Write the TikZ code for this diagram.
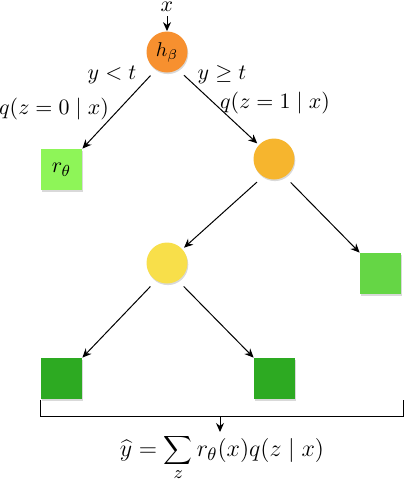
\documentclass[tikz,border=0pt]{standalone}
\usetikzlibrary{arrows.meta,shadows}
\definecolor{cRoot}{HTML}{F7902F}
\definecolor{cMid}{HTML}{F6B52E}
\definecolor{cYel}{HTML}{F8DF4A}
\definecolor{cLeafA}{HTML}{8EF558}
\definecolor{cLeafB}{HTML}{65D645}
\definecolor{cLeafC}{HTML}{2DAA22}
\tikzset{
  inner/.style={circle,minimum size=20.5pt,inner sep=0pt,drop shadow={shadow xshift=0.4pt,shadow yshift=-0.8pt,opacity=0.3}},
  leaf/.style={rectangle,minimum size=20.5pt,inner sep=0pt,drop shadow={shadow xshift=0.4pt,shadow yshift=-0.8pt,opacity=0.3}},
  conn/.style={-{Stealth[length=4.5pt,width=4pt]},line width=0.5pt,shorten <=4pt},
  lbl/.style={font=\fontsize{11}{13}\selectfont,inner sep=1pt},
}
\begin{document}
\begin{tikzpicture}[x=0.5pt,y=-0.5pt]
\useasboundingbox (0,0) rectangle (404,488);
\node[inner,fill=cRoot,font=\fontsize{10}{12}\selectfont] (root) at (167,52) {$h_\beta$};
\node[inner,fill=cMid] (mid) at (274,159) {};
\node[inner,fill=cYel] (yel) at (167,263) {};
\node[leaf,fill=cLeafA,lbl] (la) at (61.5,169.5) {$r_\theta$};
\node[leaf,fill=cLeafB] (lb) at (380.5,273.5) {};
\node[leaf,fill=cLeafC] (lc) at (61.5,378.5) {};
\node[leaf,fill=cLeafC] (ld) at (274.5,378.5) {};
\node[lbl,anchor=south] (x) at (167,14) {$x$};
\draw[conn,shorten <=1pt] (x) -- (root);
\draw[conn] (root.238) -- (la.north east);
\draw[conn,shorten >=1pt] (root.302) -- (mid);
\draw[conn,shorten >=1pt] (mid.238) -- (yel);
\draw[conn] (mid.302) -- (lb.north west);
\draw[conn] (yel.238) -- (lc.north east);
\draw[conn] (yel.302) -- (ld.north west);
\node[lbl] (l1) at (112,75) {$y<t$};
\node[lbl] (l2) at (54,109) {$q(z=0\mid x)$};
\node[lbl] (l3) at (222,75) {$y\geq t$};
\node[lbl] (l4) at (275,103) {$q(z=1\mid x)$};
\coordinate (bl) at (40.5,400);
\coordinate (br) at (403,400);
\coordinate (bm) at (220,416);
\node[anchor=north,inner sep=1pt,font=\fontsize{12.4}{15}\selectfont] (f) at (222,432) {$\widehat{y}=\displaystyle\sum_z r_\theta(x)q(z\mid x)$};
\draw[line width=0.5pt] (bl) -- (bl |- bm) -- (br |- bm) -- (br);
\draw[-{Stealth[length=4.5pt,width=4pt]},line width=0.5pt] (bm) -- (bm |- f.north);
\end{tikzpicture}
\end{document}
